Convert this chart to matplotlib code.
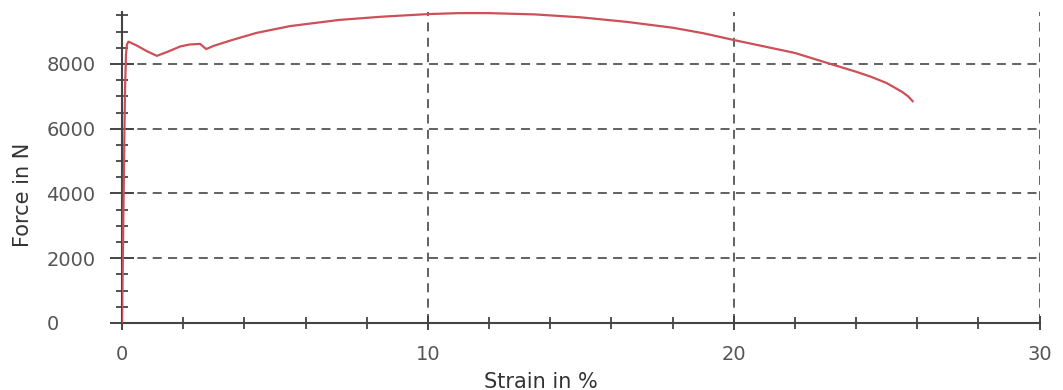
import matplotlib
matplotlib.use("Agg")
import matplotlib.pyplot as plt
from matplotlib.ticker import MultipleLocator

strain = [0.0, 0.02, 0.04, 0.06, 0.08, 0.10, 0.13, 0.16, 0.21, 0.5, 0.8, 1.14, 1.5, 1.9, 2.2, 2.55, 2.75, 3.0, 3.6,
          4.4, 5.5, 7.1, 8.5, 10.0, 11.0, 12.0, 13.5, 15.0, 16.5, 18.0, 19.0, 20.0, 21.0, 22.0, 23.2, 24.0, 24.5,
          25.0, 25.5, 25.7, 25.85]
force = [0, 1500, 3000, 4500, 6000, 7300, 8300, 8600, 8690, 8560, 8400, 8250, 8380, 8540, 8600, 8620, 8460, 8560, 8740,
         8960, 9170, 9360, 9460, 9540, 9570, 9570, 9530, 9440, 9300, 9120, 8950, 8740, 8540, 8340, 7990, 7760, 7600,
         7410, 7140, 7000, 6850]

xticks = [0, 10, 20, 30]
yticks = [0, 2000, 4000, 6000, 8000]

plt.rcParams['font.family'] = ['DejaVu Sans']
fig = plt.figure(figsize=(10.63, 3.9), dpi=100)
ax = fig.add_axes([0.1148, 0.1718, 0.978 - 0.1148, 0.9705 - 0.1718])

ax.plot(strain, force, color='#cd5058', lw=1.6, zorder=3)

ax.set_xlim(0, 30)
ax.set_ylim(0, 9620)
ax.set_xticks(xticks)
ax.set_yticks(yticks)
ax.xaxis.set_minor_locator(MultipleLocator(2))
ax.yaxis.set_minor_locator(MultipleLocator(500))

for s in ['top', 'right']:
    ax.spines[s].set_visible(False)
for s in ['left', 'bottom']:
    ax.spines[s].set_color('#444444')
    ax.spines[s].set_linewidth(1.5)

ax.grid(True, which='major', color='#555555', linestyle=(0, (5, 3.5)), lw=1.3)

ax.tick_params(axis='y', which='major', direction='inout', length=17, width=1.4, color='#444444',
               labelsize=14, labelcolor='#555555', pad=46)
ax.tick_params(axis='y', which='minor', direction='inout', length=9, width=1.3, color='#444444')
ax.tick_params(axis='x', which='major', direction='inout', length=10, width=1.4, color='#444444',
               labelsize=14, labelcolor='#555555', pad=11)
ax.tick_params(axis='x', which='minor', direction='inout', length=9, width=1.3, color='#444444')

for lab in ax.get_yticklabels():
    lab.set_horizontalalignment('left')

ax.set_xlabel('Strain in %', fontsize=15, color='#333333')
ax.set_ylabel('Force in N', fontsize=15, color='#333333')
ax.xaxis.set_label_coords(0.456, -0.157)
ax.yaxis.set_label_coords(-0.097, 0.411)

fig.savefig('out.png', dpi=100)
